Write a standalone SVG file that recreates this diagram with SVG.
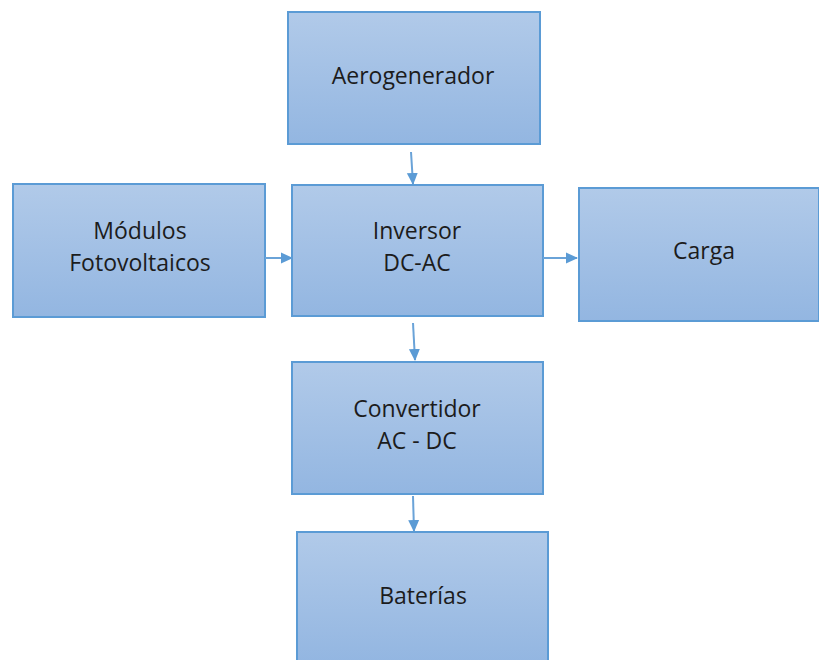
<svg xmlns="http://www.w3.org/2000/svg" width="819" height="660" viewBox="0 0 819 660">
<defs>
<linearGradient id="g" x1="0" y1="0" x2="0" y2="1">
<stop offset="0" stop-color="#b1cae9"/>
<stop offset="1" stop-color="#93b6e1"/>
</linearGradient>
<marker id="ah" markerWidth="12" markerHeight="12" refX="11" refY="6" orient="auto" markerUnits="userSpaceOnUse">
<path d="M0,0.5 L12,6 L0,11.5 Z" fill="#5b9bd5"/>
</marker>
</defs>
<style>
.box{fill:url(#g);stroke:#5b9bd5;stroke-width:2}
.t{font-family:"Open Sans","Liberation Sans",sans-serif;font-size:23px;fill:#1c1c1c;text-anchor:middle}
.c{stroke:#6aa3d8;stroke-width:2;fill:none;marker-end:url(#ah)}
</style>
<rect width="819" height="660" fill="#ffffff"/>
<g id="aerogenerador"><rect class="box" x="288" y="12" width="252" height="132"/><text class="t" x="413" y="84">Aerogenerador</text></g>
<g id="modulos"><rect class="box" x="13" y="184" width="252" height="133"/><text class="t" x="140" y="239">Módulos</text><text class="t" x="140" y="271">Fotovoltaicos</text></g>
<g id="inversor"><rect class="box" x="292" y="185" width="251" height="131"/><text class="t" x="417" y="239">Inversor</text><text class="t" x="417" y="271">DC-AC</text></g>
<g id="carga"><rect class="box" x="579" y="188" width="240" height="133"/><text class="t" x="704" y="259">Carga</text></g>
<g id="convertidor"><rect class="box" x="292" y="362" width="251" height="132"/><text class="t" x="417" y="417">Convertidor</text><text class="t" x="417" y="449">AC - DC</text></g>
<g id="baterias"><rect class="box" x="297" y="532" width="251" height="130"/><text class="t" x="423" y="604">Baterías</text></g>
<g id="connectors">
<line class="c" x1="411" y1="152" x2="413" y2="184"/>
<line class="c" x1="265" y1="258" x2="292" y2="258"/>
<line class="c" x1="543" y1="258" x2="577" y2="258"/>
<line class="c" x1="413" y1="323" x2="415" y2="360"/>
<line class="c" x1="413" y1="496" x2="414" y2="531"/>
</g>
</svg>
